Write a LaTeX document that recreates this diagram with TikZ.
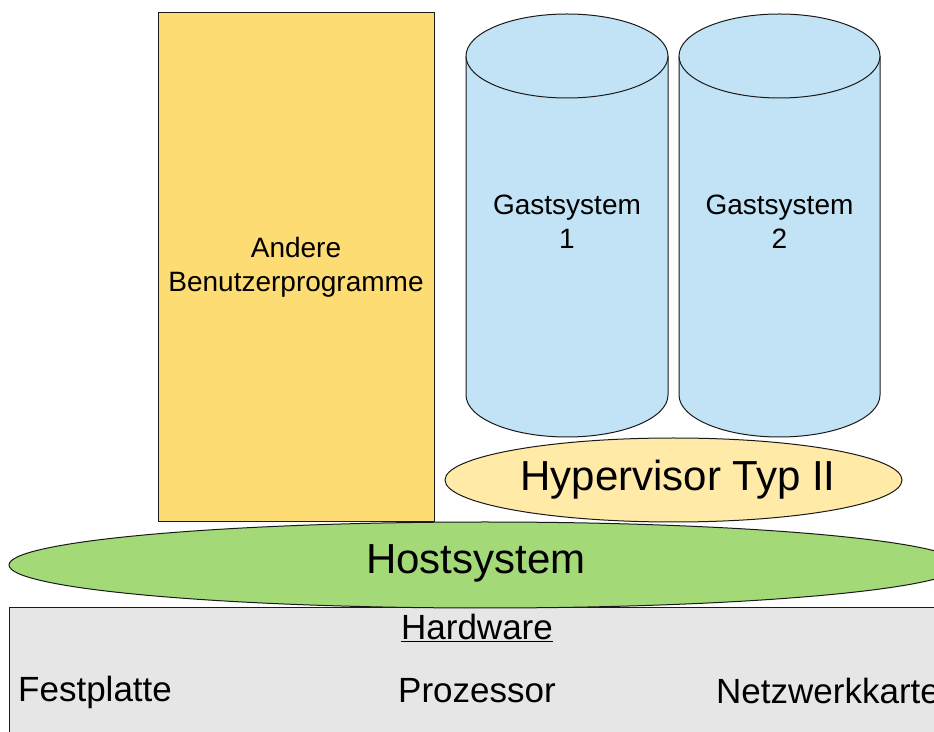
\documentclass[tikz,border=0pt]{standalone}
\usepackage{fontspec}
\setmainfont{Liberation Sans}
\usetikzlibrary{shapes.geometric}
\definecolor{progfill}{HTML}{FDDC73}
\definecolor{guestfill}{HTML}{C2E3F5}
\definecolor{hypfill}{HTML}{FFEAA7}
\definecolor{hostfill}{HTML}{A3D977}
\definecolor{hwfill}{HTML}{E6E6E6}
\definecolor{edge}{HTML}{1A1A1A}
\tikzset{
  shapeline/.style={draw=edge, line width=1pt},
  small/.style={font=\fontsize{28}{34}\selectfont, align=center, inner sep=0pt},
  mid/.style={font=\fontsize{35}{42}\selectfont, inner sep=0pt},
  big/.style={font=\fontsize{42}{50}\selectfont, inner sep=0pt},
  layer/.style={ellipse, shapeline, inner sep=0pt},
}
\newcommand{\guestcyl}[3]{% centre x, half width, name
  \fill[guestfill] (#1-#2,675) -- (#1-#2,336)
    arc[start angle=180, end angle=360, x radius=#2, y radius=42]
    -- (#1+#2,675) -- cycle;
  \draw[shapeline] (#1-#2,675) -- (#1-#2,336)
    arc[start angle=180, end angle=360, x radius=#2, y radius=42]
    -- (#1+#2,675);
  \draw[shapeline, fill=guestfill] (#1,675) ellipse[x radius=#2, y radius=42];
}
\begin{document}
\begin{tikzpicture}[x=1pt, y=1pt]
  \useasboundingbox (0,0) rectangle (934,731);
  \clip (0,0) rectangle (934,731);

  % hardware base
  \node[shapeline, fill=hwfill, rectangle, anchor=south west, inner sep=0pt,
        minimum width=960pt, minimum height=150pt] (hw) at (9,-27) {};
  \node[mid] (hwtitle) at (477,103) {\underline{Hardware}};
  \node[mid, anchor=west] (disk) at (18,39) {Festplatte};
  \node[mid] (cpu) at (477,40) {Prozessor};
  \node[mid, anchor=west] (nic) at (716,40) {Netzwerkkarte};

  % other user programs
  \node[shapeline, fill=progfill, rectangle, anchor=south west, inner sep=0pt,
        minimum width=276pt, minimum height=509pt] (prog) at (158,209) {};
  \node[small] (progtext) at (296,464) {Andere\\Benutzerprogramme};

  % host system layer
  \node[layer, fill=hostfill, minimum width=952pt, minimum height=86pt]
    (host) at (485,166) {};
  \node[big] (hosttext) at (476,168) {Hostsystem};

  % type II hypervisor
  \node[layer, fill=hypfill, minimum width=457pt, minimum height=84pt]
    (hyp) at (673.5,251) {};
  \node[big] (hyptext) at (678,251) {Hypervisor Typ II};

  % guest systems
  \guestcyl{567}{101}{g1}
  \guestcyl{779.5}{100.5}{g2}
  \node[small] (g1text) at (567,509) {Gastsystem\\1};
  \node[small] (g2text) at (779.5,509) {Gastsystem\\2};
\end{tikzpicture}
\end{document}
